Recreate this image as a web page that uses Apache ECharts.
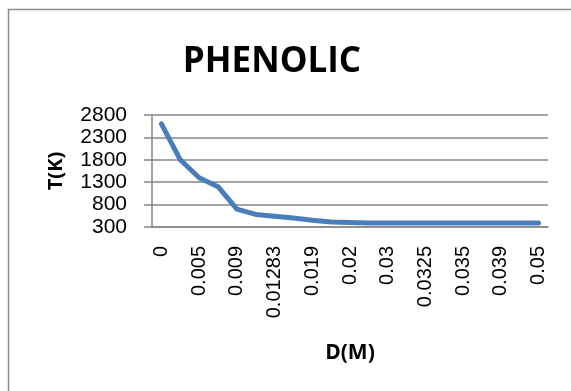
<!DOCTYPE html>
<html>
<head>
<meta charset="utf-8">
<script src="https://cdn.jsdelivr.net/npm/echarts@6/dist/echarts.min.js"></script>
<style>
  html, body { margin: 0; padding: 0; background: #fff; }
  #chart { width: 571px; height: 391px; }
</style>
</head>
<body>
<div id="chart"></div>
<script>
// D(M) 分类（奇数位的标签在原图中被隐藏）
const distances = [
  '0', '0.0025', '0.005', '0.007', '0.009', '0.011', '0.01283', '0.016', '0.019', '0.0195',
  '0.02', '0.025', '0.03', '0.031', '0.0325', '0.034', '0.035', '0.037', '0.039', '0.045', '0.05'
]
// T(K)
const temperatures = [
  2600, 1800, 1400, 1200, 700, 580, 540, 500, 450, 410,
  400, 390, 390, 390, 390, 390, 390, 390, 390, 390, 390
]
const yTicks = { min: 300, max: 2800, step: 500 }

const chart = echarts.init(document.getElementById('chart'))
const gray = '#868686'

chart.setOption({
  animation: false,
  title: {
    text: 'PHENOLIC',
    left: 267,
    top: 40,
    textAlign: 'center',
    textStyle: { fontFamily: 'Open Sans', fontWeight: 'bold', fontSize: 35, color: '#000' }
  },
  graphic: [
    {
      type: 'rect',
      shape: { x: 8.5, y: 9.5, width: 700, height: 600 },
      style: { fill: 'none', stroke: '#8c8c8c', lineWidth: 1.5 },
      silent: true
    }
  ],
  grid: { left: 152, top: 115, right: 23, bottom: 164 },
  xAxis: {
    type: 'category',
    data: distances,
    boundaryGap: true,
    name: 'D(M)',
    nameLocation: 'middle',
    nameGap: 116,
    nameTextStyle: { fontFamily: 'Open Sans', fontWeight: 'bold', fontSize: 21, color: '#000' },
    axisLine: { lineStyle: { color: gray, width: 1.5 } },
    axisTick: { show: false },
    axisLabel: {
      interval: 1,
      rotate: 90,
      margin: 19,
      fontFamily: 'Liberation Sans',
      fontSize: 20,
      color: '#000'
    }
  },
  yAxis: {
    type: 'value',
    min: yTicks.min,
    max: yTicks.max,
    interval: yTicks.step,
    name: 'T(K)',
    nameLocation: 'middle',
    nameGap: 86,
    nameTextStyle: { fontFamily: 'Open Sans', fontWeight: 'bold', fontSize: 20, color: '#000' },
    axisLine: { show: true, lineStyle: { color: gray, width: 1.5 } },
    axisTick: { show: true, length: 8, lineStyle: { color: gray, width: 1.5 } },
    axisLabel: {
      margin: 25,
      fontFamily: 'Liberation Sans',
      fontSize: 21,
      color: '#000',
      formatter: (v) => String(v)
    },
    splitLine: { lineStyle: { color: gray, width: 1.5 } }
  },
  series: [
    {
      type: 'line',
      data: temperatures,
      symbol: 'none',
      lineStyle: { color: '#4a7ebb', width: 5, cap: 'round', join: 'round' }
    }
  ]
})
</script>
</body>
</html>
